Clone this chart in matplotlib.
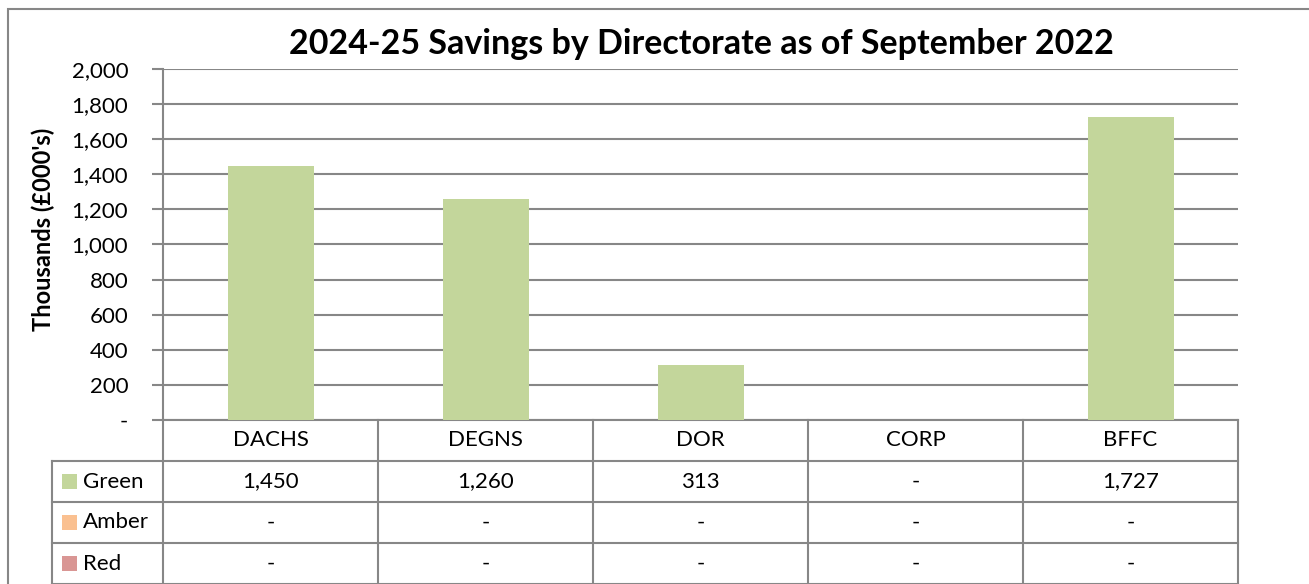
import matplotlib.pyplot as plt
import matplotlib as mpl
import numpy as np
from matplotlib.patches import Rectangle
from matplotlib.transforms import blended_transform_factory

mpl.rcParams['font.family'] = ['Lato', 'DejaVu Sans']

directorates = ['DACHS', 'DEGNS', 'DOR', 'CORP', 'BFFC']
green = [1450, 1260, 313, 0, 1727]
amber = [0, 0, 0, 0, 0]
red = [0, 0, 0, 0, 0]
series_names = ['Green', 'Amber', 'Red']
series_colors = ['#C3D69B', '#FAC090', '#D99694']
yticks = [0, 200, 400, 600, 800, 1000, 1200, 1400, 1600, 1800, 2000]

grid_col = '#878787'
fs = 16

def fmt(v):
    return '-' if v == 0 else '{:,.0f}'.format(v)

W, H = 1309, 584
fig = plt.figure(figsize=(W / 100, H / 100), dpi=100)

# outer chart border
fig.patches.append(Rectangle((8 / W, -0.1), 1.2, 1 - 9 / H + 0.1, transform=fig.transFigure,
                             fill=False, edgecolor=grid_col, lw=1.5))

ax = fig.add_axes([163 / W, 1 - 420 / H, (1238 - 163) / W, 351 / H])
x = np.arange(len(directorates))
bottom = np.zeros(len(x))
for name, vals, col in zip(series_names, [green, amber, red], series_colors):
    ax.bar(x, vals, width=0.4, bottom=bottom, color=col, zorder=3)
    bottom += np.array(vals)

ax.set_xlim(-0.5, len(x) - 0.5)
ax.set_ylim(0, 2000)
ax.set_yticks(yticks)
ax.set_yticklabels([fmt(v) for v in yticks], fontsize=fs)
ax.set_xticks([])
ax.tick_params(axis='y', length=8, color=grid_col, width=1.5, pad=17)
ax.yaxis.grid(True, color=grid_col, lw=1.5, zorder=0)
for s in ['top', 'right', 'bottom']:
    ax.spines[s].set_visible(False)
ax.spines['left'].set_color(grid_col)
ax.spines['left'].set_linewidth(1.5)

fig.text(43 / W, 1 - 229 / H, "Thousands (£000's)", rotation=90, ha='center', va='center',
         fontsize=17, fontweight='bold')
fig.text(701 / W, 1 - 44 / H, '2024-25 Savings by Directorate as of September 2022',
         ha='center', va='center', fontsize=24.5, fontweight='bold')

# data table below the plot
tr = blended_transform_factory(ax.transData, ax.transAxes)
rh = 41 / 351
leg_left = -0.5 - 111 / 215
n = len(x)
kw = dict(color=grid_col, lw=1.5, transform=tr, clip_on=False)

# header row
ax.plot([-0.5, n - 0.5], [0, 0], **kw)
for i, d in enumerate(directorates):
    ax.text(i, -rh / 2, d, ha='center', va='center', fontsize=fs, transform=tr)
rows = [green, amber, red]
for r in range(1, 5):
    ax.plot([leg_left, n - 0.5], [-rh * r, -rh * r], **kw)
for b in np.arange(-0.5, n, 1.0):
    ax.plot([b, b], [0, -rh * 4.2], **kw)
ax.plot([leg_left, leg_left], [-rh, -rh * 4.2], **kw)

for r, (name, vals, col) in enumerate(zip(series_names, rows, series_colors)):
    yc = -rh * (r + 1.5)
    ax.add_patch(Rectangle((leg_left + 10 / 215, yc - 7.5 / 351), 15 / 215, 15 / 351,
                           facecolor=col, edgecolor='none', transform=tr, clip_on=False))
    ax.text(leg_left + 31 / 215, yc, name, ha='left', va='center', fontsize=fs, transform=tr)
    for i, v in enumerate(vals):
        ax.text(i, yc, fmt(v), ha='center', va='center', fontsize=fs, transform=tr)

fig.savefig('out.png', dpi=100)
